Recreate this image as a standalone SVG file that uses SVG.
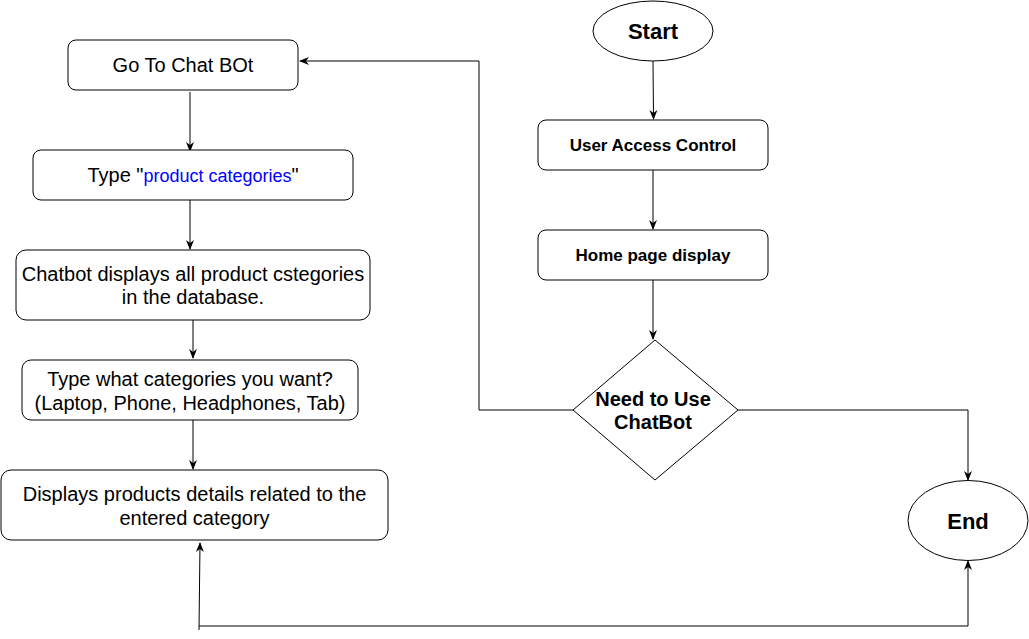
<svg xmlns="http://www.w3.org/2000/svg" width="1029" height="639" viewBox="0 0 1029 639">
<defs>
<marker id="arr" viewBox="0 0 10 10" refX="9" refY="5" markerWidth="10" markerHeight="10" markerUnits="userSpaceOnUse" orient="auto">
<path d="M0,1 L10,5 L0,9 L3,5 z" fill="#000"/>
</marker>
<style>
.box{fill:#fff;stroke:#000;stroke-width:1}
.t{font-family:"Liberation Sans",Arial,sans-serif;font-size:20px;fill:#000;text-anchor:middle}
.b{font-family:"Liberation Sans",Arial,sans-serif;font-weight:bold;fill:#000;text-anchor:middle}
.c{fill:none;stroke:#000;stroke-width:1}
</style>
</defs>
<rect width="1029" height="639" fill="#fff"/>
<g id="connectors">
<path class="c" d="M653,61 L653.5,119" marker-end="url(#arr)"/>
<path class="c" d="M653,170 L653,229" marker-end="url(#arr)"/>
<path class="c" d="M653,280 L653,339" marker-end="url(#arr)"/>
<path class="c" d="M573,410 L479,410 L479,61 L300,61" marker-end="url(#arr)"/>
<path class="c" d="M738,410 L968,410 L968,480" marker-end="url(#arr)"/>
<path class="c" d="M190,92 L190,151" marker-end="url(#arr)"/>
<path class="c" d="M190,200 L190,249" marker-end="url(#arr)"/>
<path class="c" d="M193,320 L193,358" marker-end="url(#arr)"/>
<path class="c" d="M193,420 L193,469" marker-end="url(#arr)"/>
<path class="c" d="M199,630 L200,543" marker-end="url(#arr)"/>
<path class="c" d="M199,626 L968,626 L968,561" marker-end="url(#arr)"/>
</g>
<g id="go-to-chatbot">
<rect class="box" x="68" y="40" width="230" height="50" rx="8"/>
<text class="t" x="183" y="72">Go To Chat BOt</text>
</g>
<g id="type-product-categories">
<rect class="box" x="33" y="150" width="320" height="50" rx="8"/>
<text class="t" x="193" y="182">Type "<tspan fill="#0000ff" font-size="18">product categories</tspan>"</text>
</g>
<g id="chatbot-displays">
<rect class="box" x="16" y="250" width="354" height="70" rx="10"/>
<text class="t" x="193" y="281">Chatbot displays all product cstegories</text>
<text class="t" x="193" y="304">in the database.</text>
</g>
<g id="type-what">
<rect class="box" x="22" y="360" width="336" height="60" rx="9"/>
<text class="t" x="190" y="386">Type what categories you want?</text>
<text class="t" x="190" y="410">(Laptop, Phone, Headphones, Tab)</text>
</g>
<g id="displays-products">
<rect class="box" x="1" y="470" width="387" height="70" rx="10"/>
<text class="t" x="194.5" y="501">Displays products details related to the</text>
<text class="t" x="194.5" y="525">entered category</text>
</g>
<g id="start">
<ellipse class="box" cx="653" cy="31" rx="60" ry="30"/>
<text class="b" x="653" y="39" font-size="22">Start</text>
</g>
<g id="user-access-control">
<rect class="box" x="538" y="120" width="230" height="50" rx="8"/>
<text class="b" x="653" y="151" font-size="17">User Access Control</text>
</g>
<g id="home-page-display">
<rect class="box" x="538" y="230" width="230" height="50" rx="8"/>
<text class="b" x="653" y="261" font-size="17">Home page display</text>
</g>
<g id="need-chatbot">
<polygon class="box" points="655,340 738,410 655,480 573,410"/>
<text class="b" x="653" y="406" font-size="20">Need to Use</text>
<text class="b" x="653" y="429" font-size="20">ChatBot</text>
</g>
<g id="end">
<ellipse class="box" cx="968" cy="520.5" rx="60" ry="40"/>
<text class="b" x="968" y="529" font-size="22">End</text>
</g>
</svg>
